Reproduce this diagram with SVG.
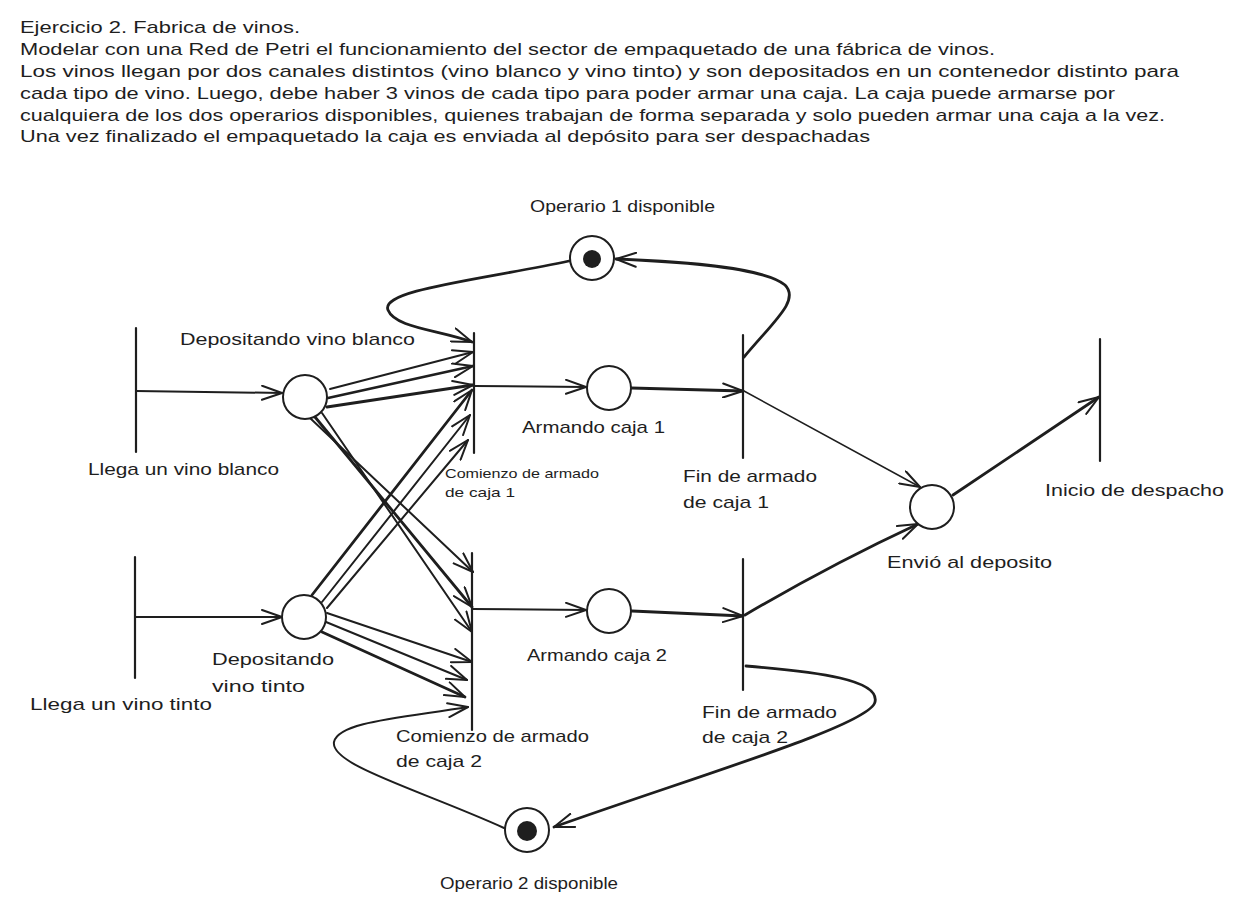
<svg xmlns="http://www.w3.org/2000/svg" width="1247" height="903" viewBox="0 0 1247 903">
<defs>
<style>
.t{font-family:"Liberation Sans","DejaVu Sans",sans-serif;font-size:17px;fill:#1e1e1e}
.s{font-family:"Liberation Sans","DejaVu Sans",sans-serif;font-size:13px;fill:#1e1e1e}
.bar{stroke:#1e1e1e;stroke-width:2.2;stroke-linecap:round;fill:none}
.pl{stroke:#1e1e1e;stroke-width:2;fill:#fff}
.tok{fill:#1e1e1e}
.a{stroke:#1e1e1e;stroke-width:2;fill:none;stroke-linecap:round;marker-end:url(#ah)}
.a3{stroke:#1e1e1e;stroke-width:2.8;fill:none;stroke-linecap:round;marker-end:url(#ah)}
.a1{stroke:#1e1e1e;stroke-width:1.5;fill:none;stroke-linecap:round;marker-end:url(#ah)}
</style>
<marker id="ah" viewBox="0 0 22 16" refX="21" refY="8" markerWidth="22" markerHeight="16" orient="auto" markerUnits="userSpaceOnUse">
<path d="M1,1 L21,8 L1,15" fill="none" stroke="#1e1e1e" stroke-width="2" stroke-linecap="round" stroke-linejoin="round"/>
</marker>
</defs>
<rect width="1247" height="903" fill="#ffffff"/>

<g id="enunciado">
<text class="t" x="20" y="33" textLength="280" lengthAdjust="spacingAndGlyphs">Ejercicio 2. Fabrica de vinos.</text>
<text class="t" x="20" y="55" textLength="975" lengthAdjust="spacingAndGlyphs">Modelar con una Red de Petri el funcionamiento del sector de empaquetado de una fábrica de vinos.</text>
<text class="t" x="20" y="77" textLength="1159" lengthAdjust="spacingAndGlyphs">Los vinos llegan por dos canales distintos (vino blanco y vino tinto) y son depositados en un contenedor distinto para</text>
<text class="t" x="20" y="99" textLength="1095" lengthAdjust="spacingAndGlyphs">cada tipo de vino. Luego, debe haber 3 vinos de cada tipo para poder armar una caja. La caja puede armarse por</text>
<text class="t" x="20" y="121" textLength="1145" lengthAdjust="spacingAndGlyphs">cualquiera de los dos operarios disponibles, quienes trabajan de forma separada y solo pueden armar una caja a la vez.</text>
<text class="t" x="20" y="142" textLength="850" lengthAdjust="spacingAndGlyphs">Una vez finalizado el empaquetado la caja es enviada al depósito para ser despachadas</text>
</g>

<g id="connectors">
<path class="a" d="M136,391 L282,393"/>
<path class="a" d="M135,617 L282,617"/>
<!-- blanco to comienzo 1 -->
<path class="a" d="M330,389 L473,352"/>
<path class="a3" d="M328,398 L473,366"/>
<path class="a3" d="M327,407 L473,385"/>
<!-- blanco to comienzo 2 -->
<path class="a" d="M310,418 L473,572"/>
<path class="a3" d="M315,417 L472,607"/>
<path class="a" d="M322,413 L472,632"/>
<!-- tinto to comienzo 1 -->
<path class="a3" d="M312,595 L472,390"/>
<path class="a" d="M322,602 L470,415"/>
<path class="a" d="M327,608 L468,440"/>
<!-- tinto to comienzo 2 -->
<path class="a" d="M327,613 L472,662"/>
<path class="a" d="M326,622 L467,680"/>
<path class="a3" d="M322,632 L465,697"/>
<!-- operario loops -->
<path class="a3" d="M569,261 C480,280 380,290 388,310 C395,328 440,330 472,342"/>
<path class="a3" d="M744,357 C775,320 800,300 785,285 C765,268 690,262 616,259"/>
<path class="a" d="M504,828 C420,790 330,765 334,742 C338,722 400,718 468,707"/>
<path class="a3" d="M746,666 C820,672 880,680 875,702 C870,725 700,775 554,827"/>
<!-- middle -->
<path class="a" d="M474,386 L586,387"/>
<path class="a3" d="M631,388 L743,391"/>
<path class="a" d="M472,609 L586,610"/>
<path class="a3" d="M632,611 L743,616"/>
<path class="a1" d="M744,391 L920,487"/>
<path class="a3" d="M745,615 Q830,565 918,524"/>
<path class="a3" d="M953,495 L1099,397"/>
</g>

<g id="t-llega-blanco">
<line class="bar" x1="136" y1="328" x2="136" y2="452"/>
<text class="t" x="88" y="475" textLength="191" lengthAdjust="spacingAndGlyphs">Llega un vino blanco</text>
</g>
<g id="t-llega-tinto">
<line class="bar" x1="135" y1="557" x2="135" y2="678"/>
<text class="t" x="30" y="710" textLength="182" lengthAdjust="spacingAndGlyphs">Llega un vino tinto</text>
</g>
<g id="p-depositando-blanco">
<circle class="pl" cx="305" cy="397" r="22"/>
<text class="t" x="180" y="345" textLength="235" lengthAdjust="spacingAndGlyphs">Depositando vino blanco</text>
</g>
<g id="p-depositando-tinto">
<circle class="pl" cx="304" cy="617" r="22"/>
<text class="t" x="212" y="665" textLength="122" lengthAdjust="spacingAndGlyphs">Depositando</text>
<text class="t" x="212" y="692" textLength="93" lengthAdjust="spacingAndGlyphs">vino tinto</text>
</g>
<g id="t-comienzo-1">
<line class="bar" x1="474" y1="333" x2="474" y2="453"/>
<text class="s" x="445" y="478" textLength="154" lengthAdjust="spacingAndGlyphs">Comienzo de armado</text>
<text class="s" x="445" y="497" textLength="70" lengthAdjust="spacingAndGlyphs">de caja 1</text>
</g>
<g id="t-comienzo-2">
<line class="bar" x1="472" y1="553" x2="472" y2="730"/>
<text class="t" x="396" y="742" textLength="193" lengthAdjust="spacingAndGlyphs">Comienzo de armado</text>
<text class="t" x="396" y="767" textLength="86" lengthAdjust="spacingAndGlyphs">de caja 2</text>
</g>
<g id="p-operario-1">
<circle class="pl" cx="592" cy="258" r="22"/>
<circle class="tok" cx="592" cy="259" r="9"/>
<text class="t" x="530" y="212" textLength="185" lengthAdjust="spacingAndGlyphs">Operario 1 disponible</text>
</g>
<g id="p-operario-2">
<circle class="pl" cx="527" cy="830" r="22"/>
<circle class="tok" cx="527" cy="831" r="10"/>
<text class="t" x="440" y="889" textLength="178" lengthAdjust="spacingAndGlyphs">Operario 2 disponible</text>
</g>
<g id="p-armando-1">
<circle class="pl" cx="609" cy="388" r="22"/>
<text class="t" x="522" y="433" textLength="143" lengthAdjust="spacingAndGlyphs">Armando caja 1</text>
</g>
<g id="p-armando-2">
<circle class="pl" cx="609" cy="611" r="22"/>
<text class="t" x="527" y="661" textLength="140" lengthAdjust="spacingAndGlyphs">Armando caja 2</text>
</g>
<g id="t-fin-1">
<line class="bar" x1="743" y1="335" x2="743" y2="458"/>
<text class="t" x="683" y="482" textLength="134" lengthAdjust="spacingAndGlyphs">Fin de armado</text>
<text class="t" x="683" y="508" textLength="86" lengthAdjust="spacingAndGlyphs">de caja 1</text>
</g>
<g id="t-fin-2">
<line class="bar" x1="743" y1="559" x2="743" y2="690"/>
<text class="t" x="702" y="718" textLength="135" lengthAdjust="spacingAndGlyphs">Fin de armado</text>
<text class="t" x="702" y="743" textLength="86" lengthAdjust="spacingAndGlyphs">de caja 2</text>
</g>
<g id="p-envio">
<circle class="pl" cx="932" cy="507" r="22"/>
<text class="t" x="887" y="568" textLength="165" lengthAdjust="spacingAndGlyphs">Envió al deposito</text>
</g>
<g id="t-inicio-despacho">
<line class="bar" x1="1100" y1="339" x2="1100" y2="461"/>
<text class="t" x="1045" y="496" textLength="179" lengthAdjust="spacingAndGlyphs">Inicio de despacho</text>
</g>
</svg>
